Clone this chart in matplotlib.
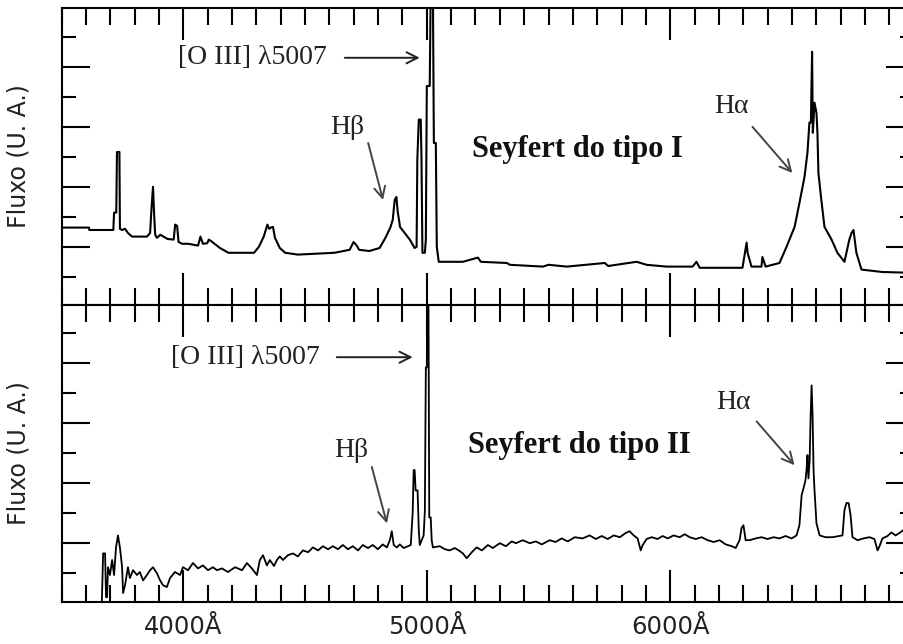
import matplotlib
matplotlib.use("Agg")
import matplotlib.pyplot as plt
from matplotlib.ticker import MultipleLocator, FixedLocator, FixedFormatter

# Seyfert tipo I: comprimento de onda observado (Angstrom) e fluxo (U. A.)
wl_tipo1 = [
    3500, 3612, 3613, 3712, 3715, 3724, 3727, 3737, 3739, 3748,
    3760, 3772, 3789, 3822, 3850, 3863, 3869, 3875, 3880, 3884,
    3891, 3905, 3935, 3960, 3966, 3974, 3980, 3995, 4020, 4060,
    4070, 4080, 4098, 4104, 4112, 4150, 4185, 4290, 4310, 4330,
    4345, 4352, 4364, 4368, 4376, 4396, 4418, 4470, 4520, 4620,
    4683, 4699, 4712, 4722, 4764, 4806, 4830, 4850, 4860, 4868,
    4875, 4880, 4890, 4909, 4930, 4950, 4958, 4961, 4967, 4975,
    4978, 4982, 4992, 4996, 5000, 5012, 5019, 5023, 5029, 5037,
    5041, 5049, 5094, 5148, 5210, 5222, 5329, 5341, 5477, 5500,
    5575, 5731, 5745, 5862, 5903, 5985, 6092, 6108, 6121, 6297,
    6314, 6318, 6334, 6375, 6379, 6392, 6449, 6478, 6511, 6531,
    6552, 6564, 6572, 6578, 6583, 6586, 6593, 6601, 6605, 6609,
    6621, 6634, 6663, 6687, 6716, 6736, 6745, 6753, 6765, 6786,
    6872, 6958, 7000,
]
fluxo_tipo1 = [
    1.32, 1.32, 1.28, 1.28, 1.57, 1.57, 2.58, 2.58, 1.30, 1.28,
    1.30, 1.23, 1.17, 1.17, 1.17, 1.23, 1.65, 2.00, 1.50, 1.20,
    1.15, 1.20, 1.13, 1.12, 1.37, 1.35, 1.08, 1.05, 1.05, 1.02,
    1.17, 1.05, 1.06, 1.12, 1.10, 0.98, 0.90, 0.90, 1.00, 1.17,
    1.37, 1.30, 1.33, 1.33, 1.15, 0.98, 0.90, 0.87, 0.88, 0.90,
    0.95, 1.08, 1.02, 0.95, 0.93, 0.98, 1.15, 1.32, 1.45, 1.78,
    1.83, 1.60, 1.33, 1.23, 1.12, 0.98, 1.00, 2.45, 3.12, 3.12,
    2.50, 0.90, 0.90, 1.12, 3.68, 3.68, 6.50, 6.50, 2.73, 2.73,
    1.00, 0.75, 0.75, 0.75, 0.82, 0.75, 0.73, 0.70, 0.67, 0.70,
    0.67, 0.73, 0.68, 0.75, 0.70, 0.67, 0.67, 0.75, 0.65, 0.65,
    1.07, 0.90, 0.67, 0.67, 0.83, 0.67, 0.73, 1.00, 1.33, 1.73,
    2.17, 2.57, 3.07, 3.07, 4.25, 2.90, 3.40, 3.23, 2.90, 2.23,
    1.78, 1.33, 1.12, 0.90, 0.75, 1.12, 1.23, 1.28, 0.90, 0.62,
    0.58, 0.57, 0.57,
]

# Seyfert tipo II
wl_tipo2 = [
    3665, 3670, 3678, 3682, 3686, 3690, 3698, 3707, 3715, 3723,
    3731, 3739, 3748, 3752, 3760, 3768, 3772, 3780, 3793, 3809,
    3821, 3834, 3850, 3863, 3875, 3891, 3904, 3916, 3932, 3945,
    3965, 3986, 3998, 4019, 4039, 4060, 4080, 4101, 4121, 4138,
    4158, 4183, 4212, 4241, 4261, 4281, 4302, 4314, 4327, 4343,
    4355, 4372, 4384, 4396, 4409, 4429, 4450, 4470, 4491, 4512,
    4532, 4553, 4573, 4594, 4614, 4635, 4655, 4676, 4696, 4717,
    4737, 4758, 4778, 4799, 4819, 4836, 4848, 4856, 4864, 4877,
    4889, 4905, 4922, 4934, 4942, 4946, 4950, 4954, 4962, 4967,
    4971, 4979, 4987, 4992, 4996, 5000, 5002, 5006, 5010, 5016,
    5020, 5025, 5053, 5074, 5094, 5115, 5135, 5148, 5164, 5185,
    5205, 5226, 5251, 5271, 5300, 5325, 5349, 5366, 5394, 5423,
    5448, 5472, 5505, 5529, 5554, 5579, 5608, 5640, 5669, 5694,
    5719, 5743, 5768, 5793, 5817, 5833, 5850, 5866, 5879, 5887,
    5903, 5924, 5948, 5969, 5990, 6014, 6039, 6060, 6080, 6105,
    6129, 6154, 6179, 6203, 6228, 6253, 6269, 6285, 6293, 6301,
    6310, 6326, 6351, 6375, 6400, 6425, 6449, 6474, 6499, 6519,
    6531, 6540, 6548, 6556, 6560, 6564, 6568, 6573, 6577, 6581,
    6585, 6589, 6593, 6601, 6614, 6638, 6667, 6696, 6708, 6716,
    6724, 6733, 6741, 6749, 6770, 6794, 6819, 6839, 6852, 6860,
    6872, 6893, 6909, 6926, 6942, 6958, 7000,
]
fluxo_tipo2 = [
    0.05, 0.83, 0.83, 0.10, 0.10, 0.60, 0.47, 0.72, 0.47, 0.93,
    1.13, 0.93, 0.60, 0.17, 0.30, 0.50, 0.60, 0.42, 0.55, 0.47,
    0.52, 0.38, 0.47, 0.55, 0.60, 0.50, 0.38, 0.30, 0.27, 0.42,
    0.52, 0.47, 0.60, 0.55, 0.67, 0.58, 0.63, 0.55, 0.60, 0.55,
    0.58, 0.52, 0.60, 0.55, 0.67, 0.58, 0.47, 0.72, 0.80, 0.63,
    0.72, 0.62, 0.72, 0.78, 0.72, 0.80, 0.83, 0.78, 0.88, 0.85,
    0.93, 0.88, 0.95, 0.90, 0.95, 0.90, 0.97, 0.90, 0.95, 0.88,
    0.97, 0.92, 0.97, 0.90, 0.98, 0.93, 1.05, 1.20, 0.97, 0.93,
    0.98, 0.92, 0.95, 0.97, 1.52, 2.22, 2.22, 1.88, 1.88, 1.22,
    0.97, 1.05, 1.13, 1.55, 3.93, 3.93, 6.00, 6.00, 1.43, 1.43,
    1.05, 0.93, 0.95, 0.90, 0.88, 0.92, 0.87, 0.83, 0.75, 0.85,
    0.93, 0.88, 0.97, 0.92, 1.00, 0.95, 1.03, 1.00, 1.05, 1.00,
    1.03, 0.98, 1.05, 1.02, 1.08, 1.03, 1.10, 1.08, 1.13, 1.07,
    1.12, 1.07, 1.13, 1.10, 1.17, 1.20, 1.13, 1.08, 0.88, 0.97,
    1.07, 1.10, 1.07, 1.12, 1.08, 1.13, 1.10, 1.15, 1.10, 1.07,
    1.10, 1.05, 1.02, 1.05, 0.98, 0.95, 0.92, 1.05, 1.25, 1.30,
    1.05, 1.05, 1.08, 1.10, 1.07, 1.10, 1.08, 1.12, 1.08, 1.13,
    1.30, 1.80, 1.92, 2.05, 2.22, 2.47, 2.08, 2.38, 3.13, 3.63,
    3.13, 2.22, 1.88, 1.33, 1.13, 1.10, 1.10, 1.12, 1.13, 1.55,
    1.67, 1.67, 1.47, 1.10, 1.05, 1.08, 1.10, 1.07, 0.88, 0.95,
    1.08, 1.12, 1.18, 1.13, 1.17, 1.22, 1.20,
]

# 7000 sits on the clipped right edge, so its label stays empty
xticks = [4000, 5000, 6000, 7000]
xtick_labels = ["4000Å", "5000Å", "6000Å", ""]

SERIF = ["Liberation Serif", "DejaVu Serif"]

fig = plt.figure(figsize=(9.04, 6.44), dpi=100)
# the right spine sits just past the edge of the image
ax1 = fig.add_axes([0.0683, 0.5264, 0.9423, 0.4612])
ax2 = fig.add_axes([0.0683, 0.0652, 0.9423, 0.4612])


def style_axis(ax, ylim):
    ax.set_xlim(3500, 7000)
    ax.set_ylim(*ylim)
    ax.xaxis.set_major_locator(FixedLocator(xticks))
    ax.xaxis.set_minor_locator(MultipleLocator(100))
    ax.yaxis.set_major_locator(MultipleLocator(1))
    ax.yaxis.set_minor_locator(MultipleLocator(0.5))
    ax.tick_params(which="both", direction="in", top=True, right=True,
                   width=1.5, color="black", labelleft=False)
    ax.tick_params(axis="x", which="major", length=23)
    ax.tick_params(axis="x", which="minor", length=12)
    ax.tick_params(axis="y", which="major", length=20)
    ax.tick_params(axis="y", which="minor", length=10)
    for s in ax.spines.values():
        s.set_linewidth(1.5)
    ax.set_ylabel("Fluxo (U. A.)", fontsize=17, color="#222222")
    ax.yaxis.set_label_coords(-0.037, 0.5)


def arrow(ax, tail, tip, color):
    ax.annotate("", xy=tip, xytext=tail,
                arrowprops=dict(arrowstyle="->,head_length=0.8,head_width=0.4",
                                color=color, lw=1.4, shrinkA=0, shrinkB=0))


style_axis(ax1, (0.03, 4.98))
style_axis(ax2, (0.02, 4.97))

ax1.plot(wl_tipo1, fluxo_tipo1, color="black", lw=1.5)
ax2.plot(wl_tipo2, fluxo_tipo2, color="black", lw=1.3)

ax1.tick_params(labelbottom=False)
ax2.xaxis.set_major_formatter(FixedFormatter(xtick_labels))
ax2.tick_params(axis="x", which="major", labelsize=17.5, pad=9, labelcolor="#222222")

# Seyfert 1 labels
ax1.text(4285, 4.15, "[O III] λ5007", family=SERIF, fontsize=20,
         ha="center", va="center", color="#222222")
arrow(ax1, (4663, 4.15), (4971, 4.15), "#222222")
ax1.text(4672, 2.98, "Hβ", family=SERIF, fontsize=20,
         ha="center", va="center", color="#222222")
arrow(ax1, (4759, 2.73), (4820, 1.78), "#444444")
ax1.text(5184, 2.62, "Seyfert do tipo I", family=SERIF, fontsize=22,
         fontweight="bold", ha="left", va="center", color="#111111")
ax1.text(6253, 3.33, "Hα", family=SERIF, fontsize=20,
         ha="center", va="center", color="#222222")
arrow(ax1, (6338, 3.0), (6502, 2.23), "#444444")

# Seyfert 2 labels
ax2.text(4253, 4.10, "[O III] λ5007", family=SERIF, fontsize=20,
         ha="center", va="center", color="#222222")
arrow(ax2, (4630, 4.10), (4942, 4.10), "#222222")
ax2.text(4688, 2.55, "Hβ", family=SERIF, fontsize=20,
         ha="center", va="center", color="#222222")
arrow(ax2, (4774, 2.27), (4836, 1.33), "#444444")
ax2.text(5168, 2.63, "Seyfert do tipo II", family=SERIF, fontsize=22,
         fontweight="bold", ha="left", va="center", color="#111111")
ax2.text(6261, 3.35, "Hα", family=SERIF, fontsize=20,
         ha="center", va="center", color="#222222")
arrow(ax2, (6355, 3.03), (6511, 2.30), "#444444")

fig.savefig("out.png", dpi=100)
